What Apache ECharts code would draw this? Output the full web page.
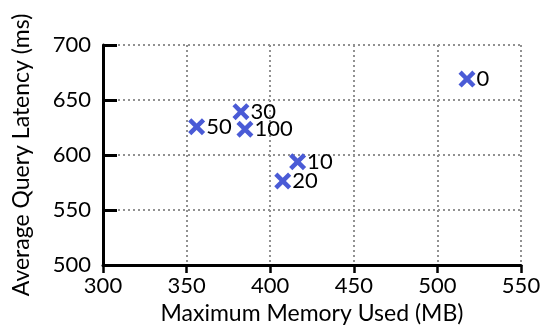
<!DOCTYPE html>
<html>
<head>
<meta charset="utf-8">
<script src="https://cdn.jsdelivr.net/npm/echarts@6/dist/echarts.min.js"></script>
<style>
html, body { margin: 0; padding: 0; background: #fff; }
#main { width: 553px; height: 332px; }
</style>
</head>
<body>
<div id="main"></div>
<script>
// points: memory (MB), latency (ms), label
var labels = ['0', '10', '20', '30', '50', '100'];
var memory = [517.7, 416.4, 407.5, 382.5, 356, 384.9];
var latency = [669, 593.9, 576.4, 639.4, 625.7, 623.4];

var xTicks = [300, 350, 400, 450, 500, 550];
var yTicks = [500, 550, 600, 650, 700];

var points = [];
for (var i in labels) {
    points.push([memory[i], latency[i], labels[i]]);
}

var font = 'Lato';
var crossPath = 'path://M0,3 L3,0 L8,5 L13,0 L16,3 L11,8 L16,13 L13,16 L8,11 L3,16 L0,13 L5,8 Z';

var myChart = echarts.init(document.getElementById('main'));

var option = {
    animation: false,
    grid: { left: 103, right: 32, top: 45, bottom: 67 },
    xAxis: {
        type: 'value',
        min: xTicks[0],
        max: xTicks[xTicks.length - 1],
        interval: 50,
        name: 'Maximum Memory Used (MB)',
        nameLocation: 'middle',
        nameGap: 36,
        nameTextStyle: { fontFamily: font, fontSize: 23, color: '#000' },
        axisLine: { lineStyle: { color: '#000', width: 3 } },
        axisTick: { show: true, inside: false, length: 8, lineStyle: { color: '#000', width: 2.5 } },
        axisLabel: { fontFamily: font, fontSize: 22, color: '#000', margin: 10 },
        splitLine: { show: true, lineStyle: { color: '#919191', width: 2, type: [2, 3] } }
    },
    yAxis: {
        type: 'value',
        min: yTicks[0],
        max: yTicks[yTicks.length - 1],
        interval: 50,
        name: 'Average Query Latency (ms)',
        nameLocation: 'middle',
        nameGap: 70,
        nameTextStyle: { fontFamily: font, fontSize: 23, color: '#000' },
        axisLine: { show: true, lineStyle: { color: '#000', width: 3 } },
        axisTick: { show: true, inside: true, length: 14, lineStyle: { color: '#000', width: 3 } },
        axisLabel: { fontFamily: font, fontSize: 22, color: '#000', margin: 12 },
        splitLine: { show: true, lineStyle: { color: '#919191', width: 2, type: [2, 3] } }
    },
    series: [{
        type: 'scatter',
        data: points,
        symbol: crossPath,
        symbolSize: 17,
        itemStyle: { color: '#4a5bd6', opacity: 1 },
        label: {
            show: true,
            position: 'right',
            distance: 1,
            formatter: function (p) { return p.data[2]; },
            fontFamily: font,
            fontSize: 22,
            color: '#000'
        }
    }]
};

myChart.setOption(option);
</script>
</body>
</html>
